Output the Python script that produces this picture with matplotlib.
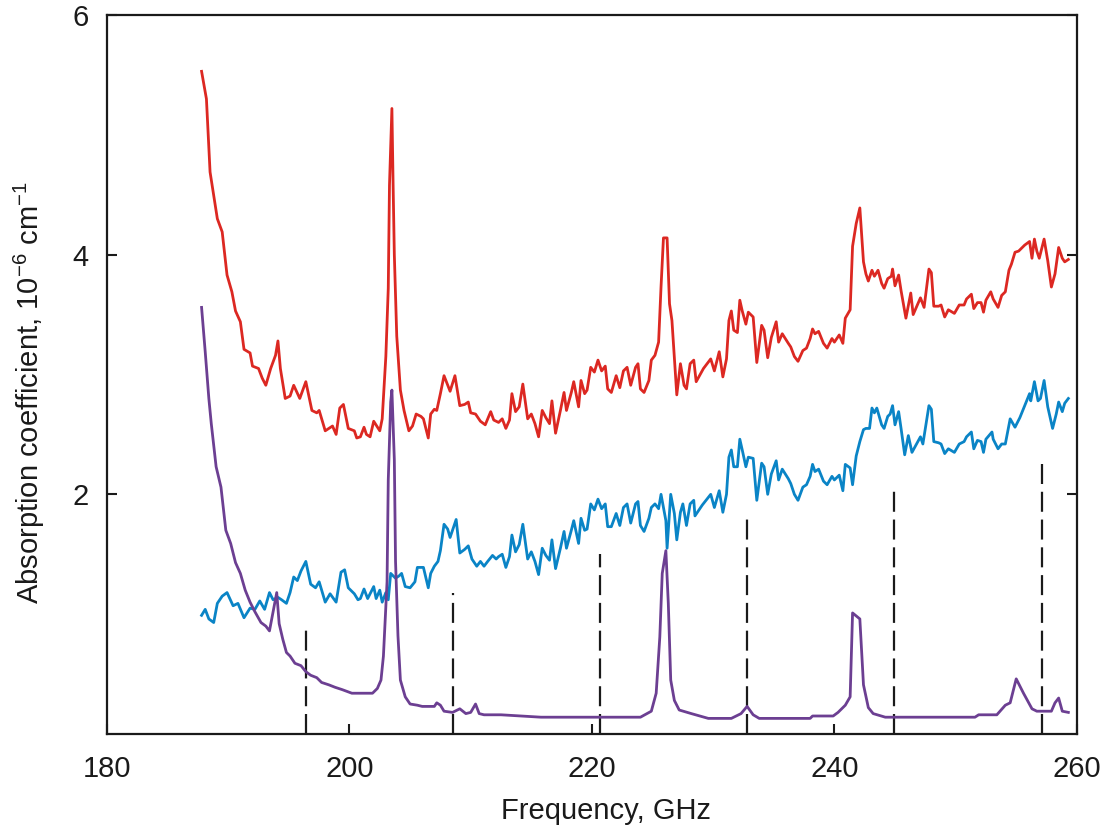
import matplotlib
matplotlib.use("Agg")
import matplotlib.pyplot as plt

plt.rcParams["font.family"] = ["Liberation Sans", "DejaVu Sans"]
plt.rcParams["mathtext.fontset"] = "custom"
plt.rcParams["mathtext.rm"] = "Liberation Sans"

# Red curve
freq_red = [
    187.8, 188.2, 188.5, 189.1, 189.5, 189.9, 190.3, 190.6, 191.0, 191.3,
    191.8, 192.0, 192.5, 192.8, 193.1, 193.5, 193.9, 194.1, 194.3, 194.7,
    195.1, 195.4, 195.9, 196.4, 196.9, 197.3, 197.5, 198.0, 198.6, 198.9,
    199.2, 199.5, 199.9, 200.4, 200.6, 200.9, 201.2, 201.4, 201.7, 202.0,
    202.5, 202.7, 203.0, 203.2, 203.3, 203.5, 203.6, 203.7, 203.9, 204.2,
    204.5, 204.9, 205.2, 205.5, 205.9, 206.1, 206.5, 206.7, 207.0, 207.2,
    207.5, 207.8, 208.3, 208.7, 209.1, 209.5, 209.8, 210.0, 210.4, 210.8,
    211.2, 211.65, 211.9, 212.3, 212.6, 212.9, 213.2, 213.4, 213.7, 214.0,
    214.3, 214.7, 215.0, 215.3, 215.6, 215.9, 216.2, 216.5, 216.7, 217.0,
    217.4, 217.7, 217.9, 218.3, 218.5, 218.9, 219.1, 219.4, 219.6, 219.9,
    220.2, 220.5, 220.8, 221.1, 221.3, 221.6, 222.0, 222.3, 222.6, 222.9,
    223.2, 223.6, 223.8, 224.0, 224.3, 224.7, 224.9, 225.2, 225.5, 225.7,
    225.9, 226.2, 226.4, 226.6, 227.0, 227.3, 227.6, 227.8, 228.1, 228.4,
    228.6, 229.2, 229.8, 230.1, 230.5, 230.8, 231.1, 231.3, 231.5, 231.7,
    232.0, 232.2, 232.4, 232.7, 232.9, 233.3, 233.6, 234.0, 234.2, 234.5,
    234.8, 235.2, 235.4, 235.7, 236.2, 236.4, 236.7, 237.0, 237.4, 237.7,
    238.0, 238.2, 238.4, 238.7, 239.1, 239.4, 239.8, 240.0, 240.4, 240.7,
    240.9, 241.3, 241.5, 241.8, 242.1, 242.4, 242.6, 242.8, 243.1, 243.3,
    243.6, 243.9, 244.1, 244.4, 244.7, 244.8, 245.0, 245.3, 245.5, 245.9,
    246.3, 246.5, 247.1, 247.4, 247.8, 248.0, 248.2, 248.6, 248.8, 249.1,
    249.4, 249.9, 250.3, 250.7, 250.9, 251.3, 251.5, 251.8, 252.1, 252.3,
    252.5, 252.9, 253.1, 253.5, 253.8, 254.1, 254.4, 254.6, 254.9, 255.2,
    255.7, 256.1, 256.3, 256.5, 256.7, 256.9, 257.3, 257.6, 257.9, 258.2,
    258.5, 258.8, 259.0, 259.3,
]
absorb_red = [
    5.53, 5.30, 4.69, 4.30, 4.19, 3.83, 3.69, 3.53, 3.44, 3.21,
    3.18, 3.07, 3.05, 2.97, 2.91, 3.05, 3.16, 3.28, 3.05, 2.80,
    2.82, 2.91, 2.80, 2.94, 2.70, 2.68, 2.70, 2.53, 2.57, 2.50,
    2.72, 2.75, 2.55, 2.53, 2.47, 2.48, 2.56, 2.50, 2.48, 2.61,
    2.53, 2.63, 3.15, 3.72, 4.58, 5.22, 4.58, 4.00, 3.32, 2.87,
    2.70, 2.53, 2.57, 2.67, 2.65, 2.63, 2.47, 2.67, 2.71, 2.70,
    2.84, 2.99, 2.86, 2.99, 2.74, 2.75, 2.77, 2.68, 2.67, 2.61,
    2.58, 2.69, 2.62, 2.60, 2.63, 2.55, 2.62, 2.84, 2.69, 2.73,
    2.92, 2.63, 2.67, 2.59, 2.48, 2.70, 2.64, 2.59, 2.78, 2.51,
    2.70, 2.85, 2.70, 2.85, 2.94, 2.73, 2.95, 2.84, 2.87, 3.06,
    3.02, 3.12, 3.03, 3.07, 2.88, 2.85, 2.99, 2.89, 3.03, 3.06,
    2.91, 3.06, 3.09, 2.88, 2.85, 2.95, 3.12, 3.16, 3.27, 3.73,
    4.14, 4.14, 3.59, 3.45, 2.83, 3.09, 2.91, 2.88, 3.09, 3.12,
    2.94, 3.05, 3.13, 3.03, 3.19, 2.98, 3.13, 3.45, 3.53, 3.37,
    3.35, 3.62, 3.53, 3.42, 3.52, 3.48, 3.10, 3.41, 3.37, 3.14,
    3.31, 3.44, 3.27, 3.34, 3.26, 3.23, 3.15, 3.11, 3.20, 3.22,
    3.30, 3.38, 3.34, 3.36, 3.26, 3.22, 3.30, 3.27, 3.33, 3.26,
    3.47, 3.54, 4.07, 4.26, 4.39, 3.94, 3.84, 3.78, 3.87, 3.82,
    3.87, 3.76, 3.72, 3.80, 3.82, 3.88, 3.74, 3.83, 3.70, 3.47,
    3.68, 3.50, 3.64, 3.56, 3.88, 3.85, 3.57, 3.57, 3.58, 3.48,
    3.54, 3.51, 3.58, 3.58, 3.63, 3.67, 3.55, 3.60, 3.60, 3.52,
    3.62, 3.69, 3.63, 3.56, 3.66, 3.69, 3.87, 3.92, 4.02, 4.03,
    4.08, 4.11, 3.97, 4.13, 4.03, 3.97, 4.13, 3.95, 3.73, 3.84,
    4.06, 3.97, 3.94, 3.96,
]

# Blue curve
freq_blue = [
    187.8, 188.1, 188.4, 188.8, 189.1, 189.5, 189.9, 190.4, 190.8, 191.3,
    191.8, 192.2, 192.6, 193.0, 193.4, 193.7, 194.1, 194.4, 194.8, 195.1,
    195.4, 195.7, 196.0, 196.4, 196.8, 197.2, 197.5, 198.0, 198.4, 198.9,
    199.3, 199.6, 199.9, 200.4, 200.7, 200.9, 201.2, 201.5, 202.0, 202.2,
    202.5, 202.7, 203.0, 203.2, 203.4, 203.8, 204.1, 204.3, 204.6, 205.0,
    205.4, 205.6, 206.1, 206.5, 206.7, 207.0, 207.3, 207.5, 207.8, 208.1,
    208.3, 208.8, 209.1, 209.5, 209.8, 210.1, 210.5, 210.8, 211.1, 211.4,
    211.8, 212.1, 212.3, 212.6, 212.9, 213.2, 213.4, 213.7, 214.0, 214.3,
    214.7, 215.0, 215.3, 215.6, 215.9, 216.2, 216.5, 216.7, 217.0, 217.4,
    217.7, 217.9, 218.3, 218.5, 218.9, 219.1, 219.4, 219.6, 219.9, 220.2,
    220.5, 220.8, 221.1, 221.3, 221.6, 222.0, 222.3, 222.6, 222.9, 223.2,
    223.6, 223.8, 224.0, 224.3, 224.7, 224.9, 225.2, 225.5, 225.7, 226.1,
    226.2, 226.5, 226.8, 227.0, 227.3, 227.5, 227.8, 228.1, 228.4, 228.5,
    229.1, 229.8, 230.1, 230.5, 230.8, 231.1, 231.3, 231.5, 231.7, 232.0,
    232.2, 232.4, 232.7, 232.9, 233.3, 233.6, 234.0, 234.2, 234.5, 234.8,
    235.2, 235.4, 235.7, 236.2, 236.4, 236.7, 237.0, 237.4, 237.7, 238.0,
    238.2, 238.4, 238.7, 239.1, 239.4, 239.8, 240.0, 240.4, 240.7, 240.9,
    241.3, 241.5, 241.8, 242.1, 242.4, 242.6, 242.9, 243.1, 243.3, 243.5,
    243.9, 244.1, 244.4, 244.6, 244.8, 245.0, 245.3, 245.5, 245.8, 246.1,
    246.4, 247.1, 247.3, 247.8, 248.0, 248.2, 248.6, 248.8, 249.1, 249.4,
    249.9, 250.3, 250.7, 250.9, 251.3, 251.5, 251.8, 252.1, 252.3, 252.5,
    253.0, 253.1, 253.5, 253.8, 254.1, 254.5, 254.9, 255.3, 255.7, 256.1,
    256.2, 256.5, 256.8, 257.0, 257.3, 257.6, 258.0, 258.3, 258.5, 258.8,
    259.0, 259.3,
]
absorb_blue = [
    0.99, 1.04, 0.96, 0.93, 1.09, 1.15, 1.18, 1.07, 1.09, 0.97,
    1.05, 1.04, 1.11, 1.04, 1.18, 1.12, 1.14, 1.12, 1.09, 1.18,
    1.31, 1.28, 1.36, 1.44, 1.25, 1.22, 1.27, 1.10, 1.17, 1.10,
    1.35, 1.37, 1.22, 1.17, 1.12, 1.13, 1.21, 1.13, 1.23, 1.13,
    1.20, 1.10, 1.18, 1.12, 1.34, 1.30, 1.32, 1.34, 1.23, 1.22,
    1.27, 1.39, 1.39, 1.22, 1.34, 1.40, 1.44, 1.53, 1.75, 1.71,
    1.64, 1.79, 1.51, 1.54, 1.57, 1.46, 1.40, 1.44, 1.40, 1.44,
    1.49, 1.46, 1.48, 1.50, 1.39, 1.48, 1.66, 1.52, 1.58, 1.75,
    1.46, 1.52, 1.44, 1.33, 1.55, 1.49, 1.45, 1.62, 1.38, 1.55,
    1.69, 1.55, 1.70, 1.78, 1.59, 1.80, 1.70, 1.71, 1.92, 1.87,
    1.96, 1.88, 1.92, 1.73, 1.73, 1.84, 1.74, 1.89, 1.92, 1.76,
    1.92, 1.94, 1.74, 1.69, 1.80, 1.89, 1.92, 1.88, 2.00, 1.78,
    1.55, 2.00, 1.84, 1.62, 1.85, 1.92, 1.74, 1.92, 1.95, 1.82,
    1.91, 2.00, 1.89, 2.03, 1.85, 2.00, 2.31, 2.37, 2.23, 2.23,
    2.46, 2.37, 2.23, 2.31, 2.30, 1.95, 2.26, 2.23, 2.00, 2.17,
    2.28, 2.12, 2.21, 2.13, 2.09, 2.00, 1.95, 2.06, 2.08, 2.15,
    2.25, 2.19, 2.21, 2.11, 2.08, 2.15, 2.12, 2.16, 2.03, 2.25,
    2.22, 2.08, 2.32, 2.44, 2.54, 2.55, 2.55, 2.72, 2.68, 2.72,
    2.58, 2.55, 2.65, 2.67, 2.74, 2.58, 2.69, 2.55, 2.33, 2.49,
    2.35, 2.48, 2.42, 2.74, 2.71, 2.44, 2.43, 2.42, 2.34, 2.38,
    2.35, 2.42, 2.44, 2.48, 2.52, 2.38, 2.45, 2.44, 2.35, 2.46,
    2.52, 2.46, 2.38, 2.42, 2.42, 2.63, 2.56, 2.64, 2.74, 2.84,
    2.78, 2.94, 2.78, 2.80, 2.95, 2.73, 2.55, 2.67, 2.77, 2.69,
    2.76, 2.80,
]

# Purple curve
freq_purple = [
    187.8, 188.1, 188.4, 188.6, 189.0, 189.4, 189.8, 190.2, 190.6, 191.0,
    191.4, 191.8, 192.2, 192.7, 193.1, 193.4, 193.7, 194.0, 194.2, 194.5,
    194.8, 195.1, 195.5, 196.0, 196.4, 196.8, 197.3, 197.7, 198.3, 198.8,
    199.4, 200.2, 201.9, 202.3, 202.6, 202.8, 203.1, 203.2, 203.4, 203.5,
    203.7, 203.8, 204.0, 204.2, 204.6, 205.0, 205.6, 206.0, 207.0, 207.2,
    207.5, 207.8, 208.5, 209.1, 209.6, 210.0, 210.4, 210.7, 211.1, 212.5,
    215.8, 224.0, 224.9, 225.3, 225.6, 225.8, 226.1, 226.3, 226.5, 226.8,
    227.2, 228.2, 229.6, 231.5, 232.3, 232.8, 233.3, 233.8, 238.0, 238.2,
    239.9, 240.3, 240.9, 241.3, 241.5, 242.1, 242.4, 242.8, 243.2, 244.2,
    251.6, 251.9, 253.4, 254.1, 254.5, 255.0, 255.6, 256.3, 256.7, 257.9,
    258.2, 258.5, 258.8, 259.3,
]
absorb_purple = [
    3.56, 3.19, 2.80, 2.59, 2.23, 2.06, 1.70, 1.59, 1.43, 1.34,
    1.20, 1.10, 1.02, 0.93, 0.90, 0.86, 1.02, 1.18, 0.92, 0.79,
    0.68, 0.65, 0.59, 0.57, 0.52, 0.49, 0.47, 0.43, 0.41, 0.39,
    0.37, 0.34, 0.34, 0.38, 0.45, 0.65, 1.27, 2.12, 2.77, 2.87,
    2.29, 1.44, 0.82, 0.45, 0.31, 0.25, 0.24, 0.23, 0.23, 0.26,
    0.24, 0.19, 0.18, 0.21, 0.17, 0.18, 0.25, 0.17, 0.16, 0.16,
    0.14, 0.14, 0.19, 0.34, 0.81, 1.34, 1.53, 1.09, 0.45, 0.28,
    0.20, 0.17, 0.13, 0.13, 0.17, 0.23, 0.16, 0.13, 0.13, 0.15,
    0.15, 0.18, 0.24, 0.31, 1.01, 0.96, 0.41, 0.22, 0.17, 0.14,
    0.14, 0.16, 0.16, 0.24, 0.26, 0.46, 0.34, 0.21, 0.19, 0.19,
    0.26, 0.30, 0.19, 0.18,
]

# Vertical dashed markers
marker_freq = [196.4, 208.5, 220.7, 232.8, 244.9, 257.1]
marker_top = [0.91, 1.18, 1.50, 1.81, 2.06, 2.25]

fig = plt.figure(figsize=(11.09, 8.30), dpi=100)
ax = fig.add_axes([0.0965, 0.1157, 0.8745, 0.8662])

ax.vlines(marker_freq, 0, marker_top, colors="#1a1a1a",
          linewidth=1.6, linestyles=(0, (9, 3.5)))

ax.plot(freq_blue, absorb_blue, color="#0a84c6", linewidth=2.0)
ax.plot(freq_red, absorb_red, color="#dc2822", linewidth=2.0)
ax.plot(freq_purple, absorb_purple, color="#6c3f92", linewidth=2.0)

ax.set_xlim(180, 260)
ax.set_ylim(0, 6)
ax.set_xticks([180, 200, 220, 240, 260])
ax.set_yticks([2, 4, 6])

ax.tick_params(axis="both", direction="in", length=7, width=1.5,
               labelsize=21, colors="#1a1a1a")
ax.tick_params(axis="x", pad=15)
ax.tick_params(axis="y", right=True, pad=13)
for spine in ax.spines.values():
    spine.set_linewidth(1.6)
    spine.set_color("#1a1a1a")

ax.set_xlabel("Frequency, GHz", fontsize=21, color="#1a1a1a")
ax.set_ylabel("Absorption coefficient, 10$^{-6}$ cm$^{-1}$",
              fontsize=21, color="#1a1a1a")
ax.xaxis.set_label_coords(0.515, -0.088)
ax.yaxis.set_label_coords(-0.062, 0.475)

fig.savefig("out.png", dpi=100)
